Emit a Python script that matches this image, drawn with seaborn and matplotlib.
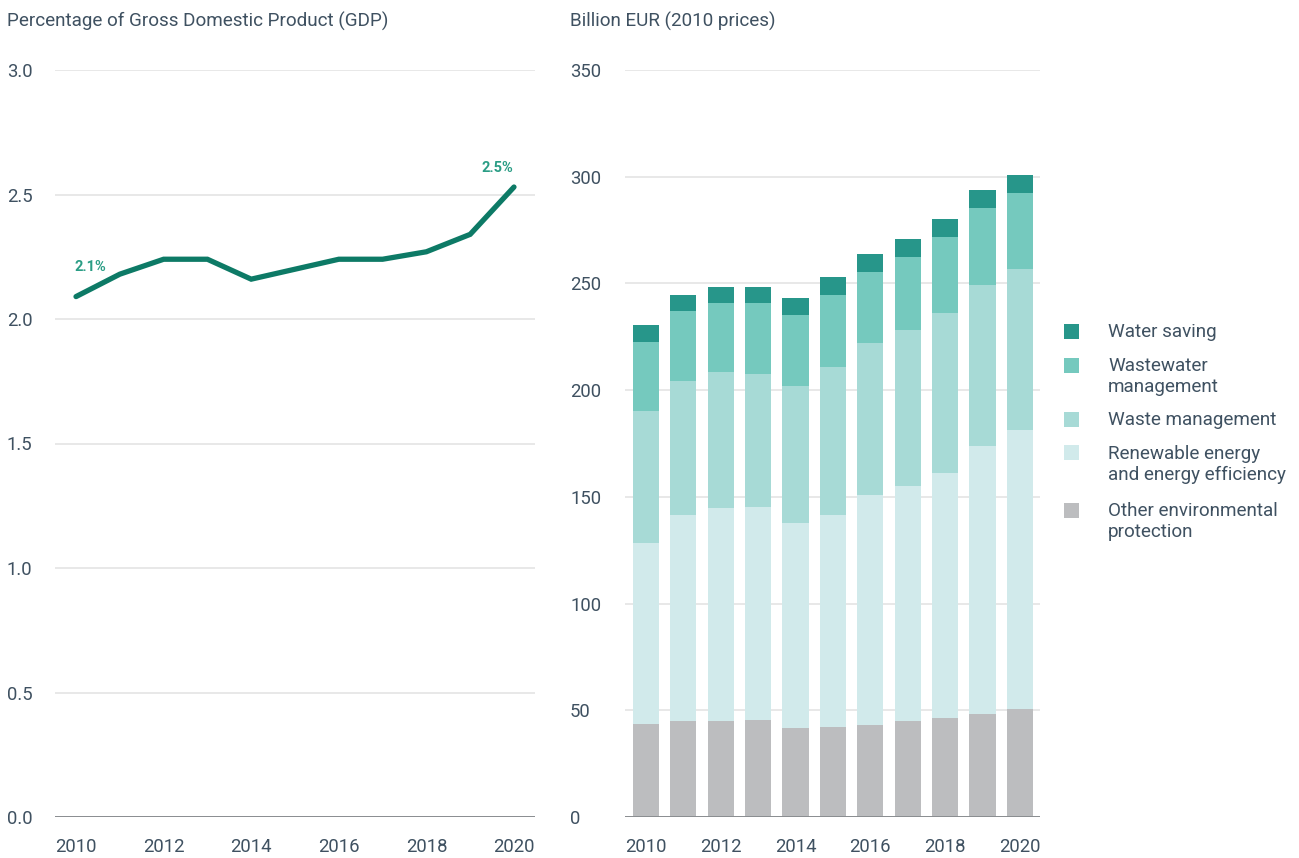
import matplotlib
matplotlib.use("Agg")
import matplotlib.pyplot as plt
from matplotlib.patches import Rectangle
import numpy as np
import pandas as pd
import seaborn as sns

# Environmental goods and services sector, 2010-2020
years = [2010, 2011, 2012, 2013, 2014, 2015, 2016, 2017, 2018, 2019, 2020]
gdp_share = [2.09, 2.18, 2.24, 2.24, 2.16, 2.20, 2.24, 2.24, 2.27, 2.34, 2.53]

# Gross value added by domain, billion EUR (2010 prices)
other_protection = [43.6, 45.0, 45.0, 45.5, 41.7, 42.2, 43.1, 45.0, 46.4, 48.3, 50.6]
renewable_energy = [84.8, 96.5, 99.8, 99.8, 96.1, 99.3, 107.8, 110.1, 114.8, 125.6, 130.7]
waste_management = [61.9, 62.8, 63.7, 62.3, 64.2, 69.4, 71.2, 73.1, 75.0, 75.4, 75.5]
wastewater_management = [32.3, 32.8, 32.4, 33.3, 33.2, 33.7, 33.3, 34.2, 35.6, 36.1, 35.6]
water_saving = [7.9, 7.5, 7.5, 7.5, 8.0, 8.4, 8.4, 8.5, 8.4, 8.4, 8.4]

series_names = ["Other environmental\nprotection",
                "Renewable energy\nand energy efficiency",
                "Waste management",
                "Wastewater\nmanagement",
                "Water saving"]
series_values = [other_protection, renewable_energy, waste_management,
                 wastewater_management, water_saving]
series_colors = ["#bcbdbf", "#d1eaeb", "#a7dad6", "#75c9be", "#27968a"]

left_ticks = [0.0, 0.5, 1.0, 1.5, 2.0, 2.5, 3.0]
right_ticks = [0, 50, 100, 150, 200, 250, 300, 350]
x_tick_years = [2010, 2012, 2014, 2016, 2018, 2020]

TEXT = "#3f5161"
GRID = "#e6e6e6"
BASE = "#8a8d90"
LINE = "#0d7a66"
LABEL = "#2a9d85"

sns.set_theme(style="white")
plt.rcParams["font.family"] = ["Roboto", "DejaVu Sans"]
plt.rcParams["font.size"] = 13

W, H = 1299, 858
fig = plt.figure(figsize=(W / 100, H / 100), dpi=100)


def frac_box(x0, x1, y0, y1):
    return [x0 / W, 1 - y1 / H, (x1 - x0) / W, (y1 - y0) / H]


ax1 = fig.add_axes(frac_box(55, 535, 70, 817))
ax2 = fig.add_axes(frac_box(625, 1040, 70, 817))

# ---- left: share of GDP ----
df_line = pd.DataFrame({"year": years, "share": gdp_share})
sns.lineplot(data=df_line, x="year", y="share", ax=ax1, color=LINE,
             linewidth=3.8, solid_joinstyle="miter", zorder=3)
ax1.set_xlim(2009.52, 2020.48)
ax1.set_ylim(0, 3.0)
ax1.set_yticks(left_ticks)
ax1.set_yticklabels([f"{t:.1f}" for t in left_ticks])
ax1.set_xticks(x_tick_years)
ax1.set_xticklabels([str(y) for y in x_tick_years])

first, last = 0, len(years) - 1
ax1.annotate(f"{gdp_share[first]:.1f}%", (years[first], gdp_share[first]),
             xytext=(10, 21), textcoords="offset points", ha="center",
             va="center", fontsize=10.5, fontweight="bold", color=LABEL)
ax1.annotate(f"{gdp_share[last]:.1f}%", (years[last], gdp_share[last]),
             xytext=(-12, 14), textcoords="offset points", ha="center",
             va="center", fontsize=10.5, fontweight="bold", color=LABEL)

# ---- right: stacked bars by domain ----
df_bar = pd.DataFrame({"year": [str(y) for y in years]})
cum = np.cumsum(np.array(series_values), axis=0)
# draw cumulative totals from the top layer down so each colour shows its segment
for i in range(len(series_values) - 1, -1, -1):
    df_bar["value"] = cum[i]
    sns.barplot(data=df_bar, x="year", y="value", ax=ax2,
                color=series_colors[i], saturation=1, width=0.7,
                errorbar=None, linewidth=0, zorder=2)
ax2.set_xlim(-0.56, len(years) - 1 + 0.535)
ax2.set_ylim(0, 350)
ax2.set_yticks(right_ticks)
ax2.set_yticklabels([str(t) for t in right_ticks])
ax2.set_xticks([years.index(y) for y in x_tick_years])
ax2.set_xticklabels([str(y) for y in x_tick_years])

for ax, pad_px in ((ax1, 48), (ax2, 55)):
    ax.set_xlabel("")
    ax.set_ylabel("")
    for s in ax.spines.values():
        s.set_visible(False)
    ax.grid(axis="y", color=GRID, linewidth=1.3, zorder=0)
    ax.grid(axis="x", visible=False)
    ax.set_axisbelow(True)
    ax.axhline(0, color=BASE, linewidth=1.4, zorder=4)
    ax.tick_params(axis="both", length=0, labelsize=13.3, colors=TEXT)
    ax.tick_params(axis="y", pad=pad_px * 0.72)
    ax.tick_params(axis="x", pad=15)
    for lab in ax.get_yticklabels():
        lab.set_horizontalalignment("left")

fig.text(7 / W, 1 - 21 / H, "Percentage of Gross Domestic Product (GDP)",
         ha="left", va="center", fontsize=13.6, color=TEXT)
fig.text(570 / W, 1 - 21 / H, "Billion EUR (2010 prices)",
         ha="left", va="center", fontsize=13.6, color=TEXT)

# ---- legend ----
legend_rows = [(331, 4), (365, 3), (419, 2), (453, 1), (510, 0)]
for y, idx in legend_rows:
    fig.add_artist(Rectangle((1064 / W, 1 - (y + 7.5) / H), 15 / W, 15 / H,
                             transform=fig.transFigure,
                             facecolor=series_colors[idx], edgecolor="none"))
    fig.text(1108 / W, 1 - (y - 8) / H, series_names[idx], ha="left",
             va="top", fontsize=13.6, color=TEXT, linespacing=1.2)

fig.savefig("out.png", dpi=100)
